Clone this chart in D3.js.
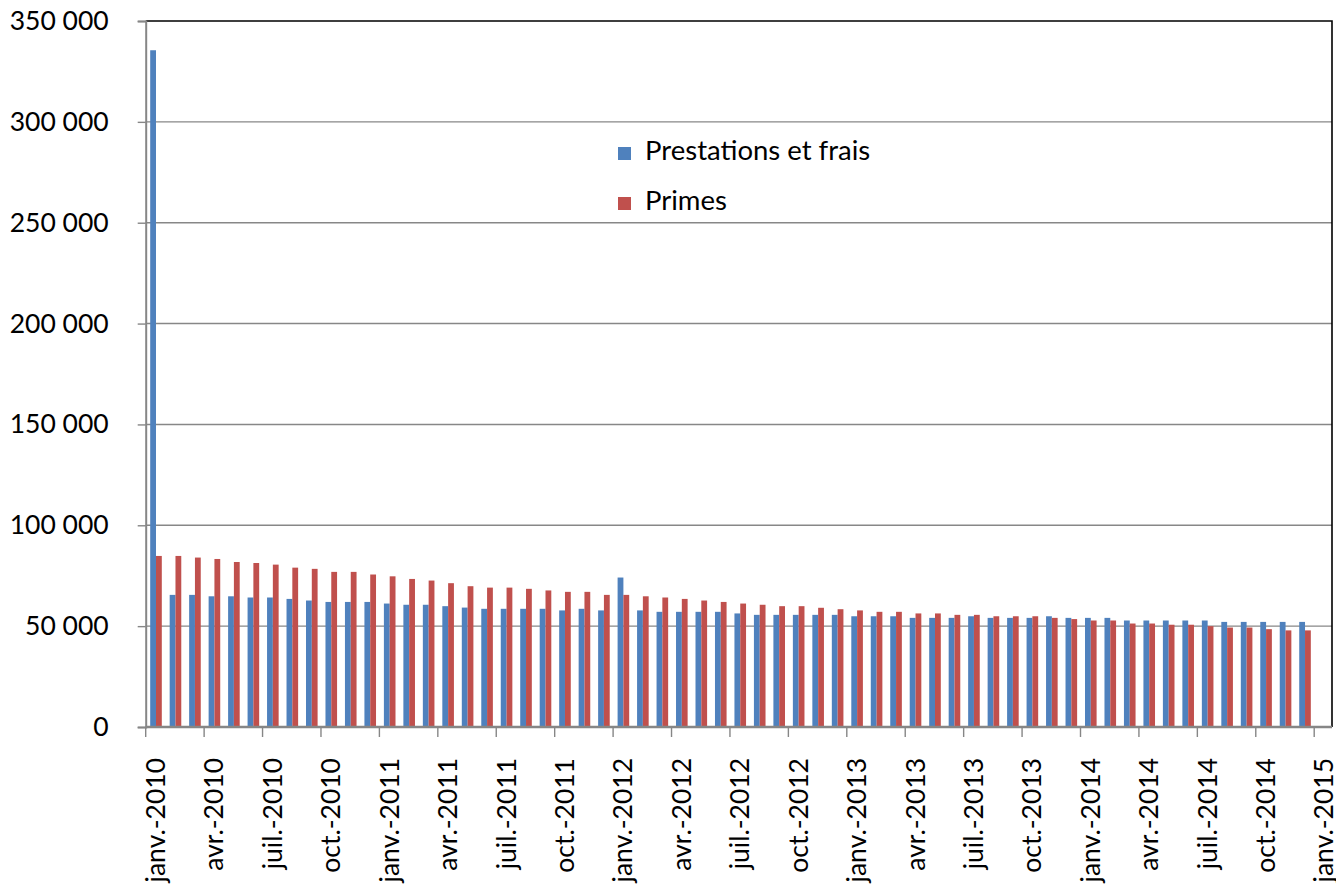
<!DOCTYPE html>
<html>
<head>
<meta charset="utf-8">
<script src="https://cdn.jsdelivr.net/npm/d3@7"></script>
<style>
  body { margin: 0; background: #fff; }
  svg text { font-family: Lato, "Liberation Sans", sans-serif; fill: #000; }
</style>
</head>
<body>
<div id="chart"></div>
<script>
(function () {
  'use strict';

  // Months on the axis: janv.-2010 .. janv.-2015 (the last one has no data)
  const monthNames = ['janv.', 'févr.', 'mars', 'avr.', 'mai', 'juin',
                      'juil.', 'août', 'sept.', 'oct.', 'nov.', 'déc.'];
  const years = [2010, 2011, 2012, 2013, 2014, 2015];

  const prestations = [
    335500, 65500, 65500, 64800, 64800, 64200, 64200, 63500, 62700, 62000, 62000, 62000,
    61200, 60600, 60600, 59900, 59200, 58600, 58600, 58600, 58600, 57800, 58600, 57800,
    74100, 57800, 57100, 57100, 57100, 57100, 56300, 55600, 55600, 55600, 55600, 55600,
    54900, 54900, 54900, 54100, 54100, 54100, 54900, 54100, 54100, 54100, 54900, 54100,
    54100, 54100, 52800, 52800, 52800, 52800, 52800, 52100, 52100, 52100, 52100, 52100
  ];
  const primes = [
    84800, 84800, 84000, 83300, 81800, 81300, 80500, 79000, 78400, 76900, 76900, 75600,
    74700, 73400, 72600, 71300, 69800, 69100, 69100, 68500, 67700, 67000, 67000, 65500,
    65500, 64800, 64200, 63500, 62700, 62000, 61200, 60600, 59900, 59900, 59100, 58400,
    57800, 57100, 57100, 56300, 56300, 55600, 55600, 54900, 54900, 54900, 54100, 53500,
    52800, 52800, 51300, 51300, 50700, 50700, 50000, 49300, 49300, 48500, 47900, 47900
  ];
  const seriesNames = ['Prestations et frais', 'Primes'];
  const seriesColors = ['#4F81BD', '#C0504D'];
  const yTicks = [0, 50000, 100000, 150000, 200000, 250000, 300000, 350000];

  const W = 1336, H = 885;
  const PLOT = { left: 145.7, top: 21, right: 1332, bottom: 727 };
  const BAND = 19.475;

  const categories = [];
  years.forEach(y => monthNames.forEach(m => categories.push(m + '-' + y)));
  categories.length = 61;

  const rows = prestations.map((v, i) => ({ cat: categories[i], values: [v, primes[i]] }));

  const fr = d3.formatLocale({ decimal: ',', thousands: '\u00a0', grouping: [3], currency: ['', ' €'] });
  const fmt = fr.format(',d');

  const svg = d3.select('#chart').append('svg')
    .attr('width', W).attr('height', H);

  const x = d3.scaleBand()
    .domain(categories)
    .range([PLOT.left, PLOT.left + categories.length * BAND])
    .paddingInner(0).paddingOuter(0);

  const x1 = d3.scaleBand()
    .domain([0, 1])
    .range([4.5, 16.1]);

  const y = d3.scaleLinear()
    .domain([0, 350000])
    .range([PLOT.bottom, PLOT.top]);

  // Gridlines
  svg.append('g')
    .selectAll('line')
    .data(yTicks.filter(t => t > 0 && t < 350000))
    .join('line')
    .attr('x1', PLOT.left).attr('x2', PLOT.right)
    .attr('y1', d => y(d)).attr('y2', d => y(d))
    .attr('stroke', '#878787').attr('stroke-width', 1.4);

  // Plot border, top and right
  svg.append('path')
    .attr('d', `M${PLOT.left},${y(350000)}H${PLOT.right}V${PLOT.bottom}`)
    .attr('fill', 'none').attr('stroke', '#000').attr('stroke-width', 1.6);

  // Bars
  svg.append('g')
    .selectAll('g')
    .data(rows)
    .join('g')
    .attr('transform', d => `translate(${x(d.cat)},0)`)
    .selectAll('rect')
    .data(d => d.values.map((v, k) => ({ v, k })))
    .join('rect')
    .attr('x', d => x1(d.k))
    .attr('width', x1.bandwidth())
    .attr('y', d => y(d.v))
    .attr('height', d => y(0) - y(d.v))
    .attr('fill', d => seriesColors[d.k]);

  // Y axis
  const yAxis = svg.append('g')
    .attr('transform', `translate(${PLOT.left},0)`)
    .call(d3.axisLeft(y).tickValues(yTicks).tickSize(8).tickPadding(29).tickFormat(fmt));
  yAxis.select('.domain').attr('stroke', '#868686').attr('stroke-width', 2);
  yAxis.selectAll('.tick line').attr('stroke', '#868686').attr('stroke-width', 1.4);
  yAxis.selectAll('.tick text')
    .attr('font-size', 26.5).attr('font-family', 'Lato, "Liberation Sans", sans-serif')
    .attr('fill', '#000');

  // X axis line
  svg.append('line')
    .attr('x1', PLOT.left).attr('x2', PLOT.right)
    .attr('y1', PLOT.bottom).attr('y2', PLOT.bottom)
    .attr('stroke', '#868686').attr('stroke-width', 2.5);

  const labelled = categories.filter((c, i) => i % 3 === 0);

  svg.append('g')
    .selectAll('line')
    .data(labelled)
    .join('line')
    .attr('x1', d => x(d)).attr('x2', d => x(d))
    .attr('y1', PLOT.bottom).attr('y2', PLOT.bottom + 10)
    .attr('stroke', '#868686').attr('stroke-width', 1.4);

  svg.append('g')
    .selectAll('text')
    .data(labelled)
    .join('text')
    .attr('transform', d => `translate(${x(d) + x.bandwidth() / 2},758) rotate(-90)`)
    .attr('text-anchor', 'end')
    .attr('dy', '0.36em')
    .attr('font-size', 26.5)
    .text(d => d);

  // Legend
  const legend = svg.append('g')
    .selectAll('g')
    .data(seriesNames)
    .join('g')
    .attr('transform', (d, i) => `translate(618,${160 + i * 50})`);
  legend.append('rect')
    .attr('x', 0).attr('y', -13).attr('width', 13).attr('height', 13)
    .attr('fill', (d, i) => seriesColors[i]);
  legend.append('text')
    .attr('x', 27).attr('y', 0)
    .attr('font-size', 27.5)
    .text(d => d);
})();
</script>
</body>
</html>
